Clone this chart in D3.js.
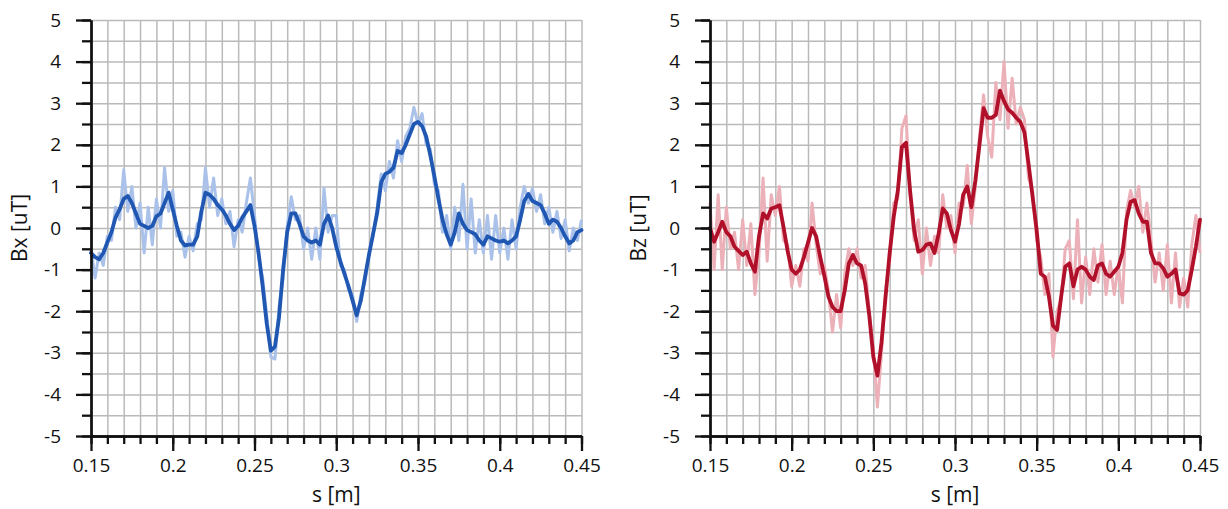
<!DOCTYPE html>
<html>
  <head>
    <meta charset="utf-8">
    <title>Bx / Bz along s</title>
    <script src="https://d3js.org/d3.v7.min.js"></script>
    <style>
      body { margin: 0; background: #fff; }
      .grid line { stroke: #bababa; stroke-width: 1.5px; }
      .grid path { display: none; }
      .axis path, .axis line { stroke: #111; stroke-width: 2.3px; }
      .axis text { font-family: "Open Sans", sans-serif; font-size: 19px; fill: #111; }
      .title { font-family: "Open Sans", sans-serif; font-size: 21px; fill: #111; }
    </style>
  </head>
  <body>
    <svg id="chart" width="1228" height="509"></svg>
    <script>
      // position along s, every 2.5 mm
      var s = d3.range(121).map(function(i) { return +(0.15 + i * 0.0025).toFixed(4); });
      var xTicks = [0.15, 0.2, 0.25, 0.3, 0.35, 0.4, 0.45];
      var xTickLabels = ["0.15", "0.2", "0.25", "0.3", "0.35", "0.4", "0.45"];
      var yTicks = [-5, -4, -3, -2, -1, 0, 1, 2, 3, 4, 5];

      // Bx: smoothed and raw
      var bxSmooth = [-0.6, -0.7, -0.75, -0.6, -0.35, -0.1, 0.25, 0.45, 0.7, 0.77,
        0.6, 0.35, 0.1, 0.05, 0.0, 0.05, 0.28, 0.35, 0.6, 0.85,
        0.45, 0.05, -0.3, -0.42, -0.4, -0.4, -0.2, 0.4, 0.85, 0.8,
        0.7, 0.55, 0.45, 0.3, 0.1, -0.05, 0.05, 0.25, 0.4, 0.55,
        0.05, -0.6, -1.4, -2.3, -2.95, -2.85, -2.15, -1.0, -0.1, 0.35,
        0.35, 0.1, -0.2, -0.3, -0.35, -0.3, -0.4, 0.1, 0.3, 0.0,
        -0.45, -0.8, -1.1, -1.4, -1.75, -2.1, -1.75, -1.2, -0.65, -0.15,
        0.35, 1.1, 1.3, 1.35, 1.45, 1.85, 1.8, 2.0, 2.25, 2.5,
        2.55, 2.45, 2.2, 1.75, 1.25, 0.7, 0.2, -0.15, -0.4, -0.1,
        0.35, 0.1, -0.05, -0.1, -0.15, -0.3, -0.4, -0.2, -0.25, -0.3,
        -0.33, -0.3, -0.37, -0.3, -0.2, 0.2, 0.65, 0.82, 0.65, 0.6,
        0.55, 0.35, 0.1, 0.2, 0.15, 0.0, -0.2, -0.37, -0.3, -0.1,
        -0.05];
      var bxRaw = [-0.5, -1.2, -0.6, -0.9, -0.2, -0.3, 0.5, 0.2, 1.4, 0.4,
        1.0, 0.0, 0.6, -0.6, 0.5, -0.4, 0.7, 0.0, 1.45, 0.4,
        0.9, -0.2, -0.1, -0.7, -0.2, -0.55, 0.1, 0.2, 1.45, 0.5,
        1.2, 0.3, 0.7, 0.1, 0.4, -0.45, 0.2, -0.1, 0.6, 1.2,
        0.3, -0.7, -1.2, -2.1, -3.1, -3.15, -1.9, -1.2, 0.05, 0.75,
        0.2, 0.3, -0.5, 0.0, -0.75, 0.0, -0.75, 0.95, -0.1, 0.3,
        0.3, -0.9, -1.0, -1.5, -1.6, -2.25, -1.6, -1.3, -0.6, -0.2,
        0.5, 1.3, 0.9, 1.6, 1.2, 2.1, 1.6, 2.2, 2.4, 2.9,
        2.5, 2.75, 2.0, 1.9, 1.05, 0.9, -0.1, 0.3, -0.5, 0.5,
        -0.3, 1.05, -0.5, 0.7, -0.6, 0.2, -0.6, 0.3, -0.75, 0.3,
        -0.6, 0.0, -0.75, 0.2, -0.5, 0.5, 1.0, 0.6, 0.95, 0.4,
        0.8, 0.1, 0.5, -0.1, 0.4, -0.25, 0.2, -0.55, 0.0, -0.3,
        0.2];

      // Bz: smoothed and raw
      var bzSmooth = [0.0, -0.33, -0.1, 0.15, -0.1, -0.2, -0.45, -0.55, -0.65, -0.57,
        -0.85, -1.05, -0.2, 0.35, 0.23, 0.47, 0.5, 0.55, 0.03, -0.55,
        -1.0, -1.1, -1.0, -0.7, -0.35, 0.0, -0.2, -0.7, -1.15, -1.65,
        -1.9, -2.0, -2.0, -1.5, -0.85, -0.65, -0.85, -0.9, -1.33, -2.1,
        -3.1, -3.55, -2.75, -1.65, -0.6, 0.27, 0.9, 1.95, 2.05, 0.9,
        -0.05, -0.57, -0.53, -0.4, -0.37, -0.6, -0.13, 0.47, 0.35, -0.05,
        -0.33, 0.1, 0.8, 1.0, 0.5, 1.15, 2.0, 2.88, 2.65, 2.65,
        2.72, 3.3, 3.05, 2.85, 2.77, 2.65, 2.55, 2.3, 1.55, 0.75,
        -0.05, -1.1, -1.17, -1.65, -2.35, -2.45, -1.65, -0.93, -0.85, -1.4,
        -1.0, -0.93, -1.0, -1.17, -1.25, -0.9, -0.85, -1.1, -1.17, -1.05,
        -0.93, -0.6, 0.2, 0.63, 0.67, 0.35, 0.15, 0.15, -0.6, -0.85,
        -0.85, -0.97, -1.17, -1.1, -1.0, -1.57, -1.6, -1.5, -1.0, -0.45,
        0.2];
      var bzRaw = [0.6, -1.0, 0.8, -1.0, 0.5, -0.5, -0.1, -1.0, 0.2, -0.9,
        0.1, -1.6, -0.6, 1.2, -0.8, 0.8, 0.3, 1.0, -0.3, -0.4,
        -1.4, -0.9, -1.4, -0.5, -0.8, 0.6, -0.4, -1.1, -0.9, -1.5,
        -2.5, -1.6, -2.4, -1.1, -0.5, -0.9, -0.5, -1.2, -0.9, -2.0,
        -2.9, -4.3, -3.0, -1.5, -0.8, 0.6, 0.7, 2.4, 2.7, 0.8,
        -0.3, 0.2, -1.1, 0.0, -0.9, -0.2, -0.6, 0.8, 0.0, 0.3,
        -0.6, 0.6, 0.5, 1.5, 0.1, 1.0, 2.2, 3.2, 2.2, 1.7,
        3.5, 2.6, 4.0, 2.4, 3.6, 2.5, 2.9, 2.6, 1.2, 0.9,
        -0.3, -0.7, -1.6, -1.1, -3.1, -2.0, -1.7, -0.5, -0.3, -1.7,
        0.2, -1.8, -0.7, -1.6, -0.5, -1.3, -0.4, -1.6, -0.8, -1.6,
        -0.9, -1.8, 0.4, 0.9, 0.5, 1.0, -0.1, 0.6, -0.3, -1.3,
        -0.6, -1.5, -0.4, -1.8, -0.6, -1.9, -1.2, -1.9, -0.4, 0.3,
        -0.6];

      var svg = d3.select("#chart");
      var plotTop = 20, plotBottom = 436;

      var panels = [
        { left: 91, right: 581.5, label: "Bx [uT]", smooth: bxSmooth, raw: bxRaw, dark: "#1f57b3", light: "#aac2ea" },
        { left: 710, right: 1200, label: "Bz [uT]", smooth: bzSmooth, raw: bzRaw, dark: "#b01029", light: "#ecb0b9" }
      ];

      panels.forEach(function(p) {
        var x = d3.scaleLinear().domain([0.15, 0.45]).range([p.left, p.right]);
        var y = d3.scaleLinear().domain([-5, 5]).range([plotBottom, plotTop]);
        var w = p.right - p.left, h = plotBottom - plotTop;
        var xMinor = d3.range(31).map(function(i) { return 0.15 + i * 0.01; });
        var yMinor = d3.range(21).map(function(i) { return -5 + i * 0.5; });
        var g = svg.append("g");

        // grid every 0.01 m and every 0.5 uT
        g.append("g")
          .attr("class", "grid")
          .attr("transform", "translate(0," + plotBottom + ")")
          .call(d3.axisBottom(x).tickValues(xMinor).tickSize(-h).tickFormat(""));
        g.append("g")
          .attr("class", "grid")
          .attr("transform", "translate(" + p.left + ",0)")
          .call(d3.axisLeft(y).tickValues(yMinor).tickSize(-w).tickFormat(""));

        var line = d3.line()
          .x(function(d, i) { return x(s[i]); })
          .y(function(d) { return y(d); });

        g.append("path")
          .datum(p.raw)
          .attr("fill", "none")
          .attr("stroke", p.light)
          .attr("stroke-width", 3)
          .attr("stroke-linejoin", "round")
          .attr("d", line);
        g.append("path")
          .datum(p.smooth)
          .attr("fill", "none")
          .attr("stroke", p.dark)
          .attr("stroke-width", 3.8)
          .attr("stroke-linejoin", "round")
          .attr("stroke-linecap", "round")
          .attr("d", line);

        // minor ticks
        g.append("g")
          .attr("class", "axis")
          .attr("transform", "translate(0," + plotBottom + ")")
          .call(d3.axisBottom(x).tickValues(xMinor).tickSize(8).tickSizeOuter(0).tickFormat(""));
        g.append("g")
          .attr("class", "axis")
          .attr("transform", "translate(" + p.left + ",0)")
          .call(d3.axisLeft(y).tickValues(yMinor).tickSize(9).tickSizeOuter(0).tickFormat(""));

        // major ticks and labels
        g.append("g")
          .attr("class", "axis")
          .attr("transform", "translate(0," + plotBottom + ")")
          .call(d3.axisBottom(x).tickValues(xTicks)
            .tickSize(15).tickSizeOuter(0).tickPadding(8)
            .tickFormat(function(d, i) { return xTickLabels[i]; }));
        g.append("g")
          .attr("class", "axis")
          .attr("transform", "translate(" + p.left + ",0)")
          .call(d3.axisLeft(y).tickValues(yTicks)
            .tickSize(15).tickSizeOuter(0).tickPadding(15)
            .tickFormat(function(d) { return String(d); }));

        // titles
        g.append("text")
          .attr("class", "title")
          .attr("x", (p.left + p.right) / 2)
          .attr("y", 502)
          .attr("text-anchor", "middle")
          .text("s [m]");
        g.append("text")
          .attr("class", "title")
          .attr("transform", "translate(" + (p.left - 64) + "," + (plotTop + h / 2) + ") rotate(-90)")
          .attr("text-anchor", "middle")
          .text(p.label);
      });
    </script>
  </body>
</html>
